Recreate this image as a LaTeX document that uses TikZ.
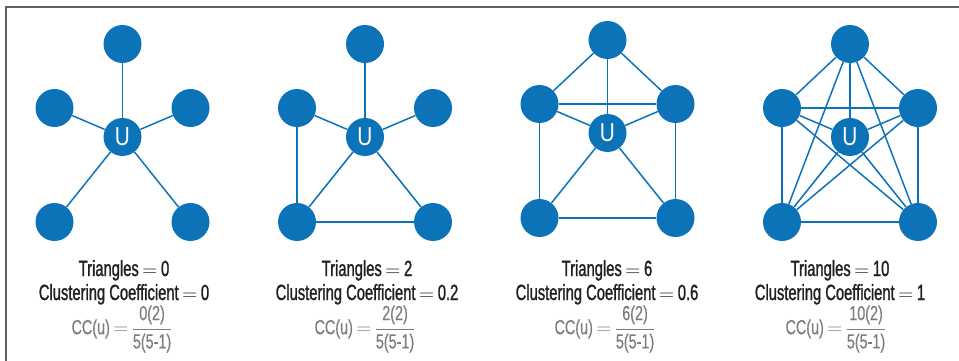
\documentclass[tikz,border=0pt]{standalone}
\usepackage{amsmath}
\usepackage{fontspec}
\setmainfont{Liberation Sans}[FakeStretch=0.70]
\newfontfamily\labfont{Liberation Sans}[FakeStretch=0.67,FakeBold=1.2]
\newfontfamily\frmfont{Liberation Sans}[FakeStretch=0.70,FakeBold=0.5]
\newfontfamily\ufont{Liberation Sans}[FakeStretch=0.80]
\definecolor{nodeblue}{RGB}{13,115,184}
\definecolor{txtdark}{RGB}{35,31,32}
\definecolor{txtgray}{RGB}{125,125,125}
\definecolor{framegray}{RGB}{95,95,95}
\tikzset{
  vtx/.style={circle,fill=nodeblue,draw=none,minimum size=38pt,inner sep=0pt},
  uvtx/.style={vtx,text=white,font=\ufont\fontsize{26}{28}\selectfont},
  edge/.style={draw=nodeblue,line width=1.5pt},
  lbl/.style={anchor=base,text=txtdark,font=\labfont\fontsize{22}{25}\selectfont,inner sep=0pt},
  frm/.style={anchor=center,text=txtgray,font=\frmfont\fontsize{20.5}{22}\selectfont,inner sep=0pt},
  framel/.style={draw=framegray,line width=1.6pt}
}
\newcommand\mkpanel[3]{%
  \begin{scope}[shift={(#2,#3)}]
    \node[vtx]  (#1t)  at (0,44) {};
    \node[vtx]  (#1l)  at (-68,108) {};
    \node[vtx]  (#1r)  at (68,108) {};
    \node[uvtx] (#1u)  at (0,137) {U};
    \node[vtx]  (#1bl) at (-68,222) {};
    \node[vtx]  (#1br) at (68,222) {};
  \end{scope}
  \foreach \n in {t,l,r,bl,br}{\draw[edge] (#1u) -- (#1\n);}
}
\newcommand\ccform[1]{$\text{CC(u)}\mkern3mu{=}\mkern3mu\dfrac{\text{#1}}{\text{5(5-1)}}$}
\begin{document}
\begin{tikzpicture}[x=1pt,y=-1pt]
  \useasboundingbox (0,0) rectangle (959,361);
  \coordinate (fa) at (6,361);
  \coordinate (fb) at (6,7);
  \coordinate (fc) at (959,7);
  \draw[framel] (fa) -- (fb) -- (fc);

  % panel 1
  \mkpanel{A}{122.5}{0}
  % panel 2
  \mkpanel{B}{365}{0}
  \draw[edge] (Bl) -- (Bbl);
  \draw[edge] (Bbl) -- (Bbr);
  % panel 3
  \mkpanel{C}{607.5}{-4}
  \draw[edge] (Ct) -- (Cl);
  \draw[edge] (Ct) -- (Cr);
  \draw[edge] (Cl) -- (Cr);
  \draw[edge] (Cl) -- (Cbl);
  \draw[edge] (Cr) -- (Cbr);
  \draw[edge] (Cbl) -- (Cbr);
  % panel 4
  \mkpanel{D}{850}{0}
  \draw[edge] (Dt) -- (Dl);
  \draw[edge] (Dt) -- (Dr);
  \draw[edge] (Dt) -- (Dbl);
  \draw[edge] (Dt) -- (Dbr);
  \draw[edge] (Dl) -- (Dr);
  \draw[edge] (Dl) -- (Dbl);
  \draw[edge] (Dl) -- (Dbr);
  \draw[edge] (Dr) -- (Dbl);
  \draw[edge] (Dr) -- (Dbr);
  \draw[edge] (Dbl) -- (Dbr);

  % labels
  \node[lbl] (A1) at (124,276) {Triangles\,$=$\,0};
  \node[lbl] (A2) at (124,300) {Clustering Coefficient\,$=$\,0};
  \node[frm] (A3) at (122,329) {\ccform{0(2)}};

  \node[lbl] (B1) at (367,276) {Triangles\,$=$\,2};
  \node[lbl] (B2) at (367,300) {Clustering Coefficient\,$=$\,0.2};
  \node[frm] (B3) at (365,329) {\ccform{2(2)}};

  \node[lbl] (C1) at (607,276) {Triangles\,$=$\,6};
  \node[lbl] (C2) at (607,300) {Clustering Coefficient\,$=$\,0.6};
  \node[frm] (C3) at (605,329) {\ccform{6(2)}};

  \node[lbl] (D1) at (840,276) {Triangles\,$=$\,10};
  \node[lbl] (D2) at (840,300) {Clustering Coefficient\,$=$\,1};
  \node[frm] (D3) at (836,329) {\ccform{10(2)}};
\end{tikzpicture}
\end{document}
